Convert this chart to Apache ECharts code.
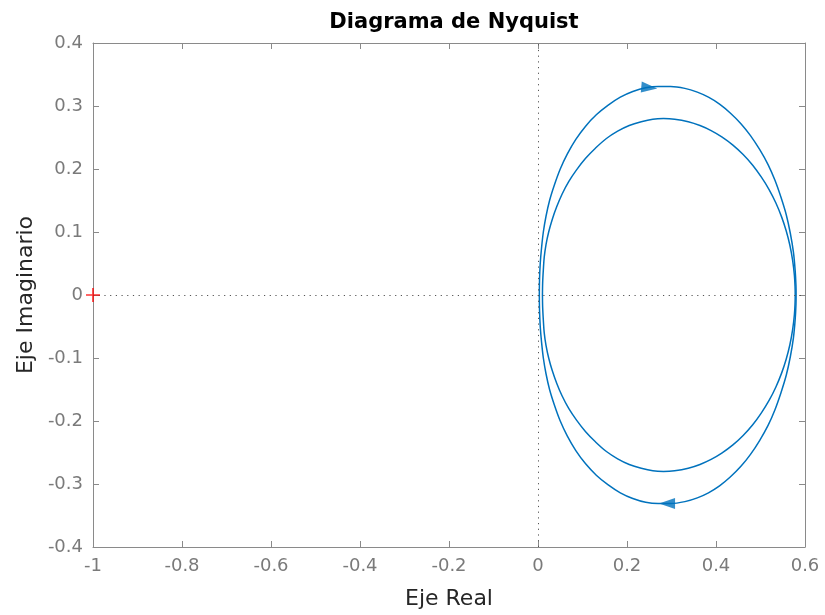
<!DOCTYPE html>
<html>
<head>
<meta charset="utf-8">
<script src="https://cdn.jsdelivr.net/npm/echarts@6/dist/echarts.min.js"></script>
<style>html,body{margin:0;padding:0;background:#fff}#c{width:825px;height:615px}</style>
</head>
<body>
<div id="c"></div>
<script>
// Outer loop: upper half (left -> right) and lower half (right -> left)
var outerUpX = [0.003, 0.0035, 0.005, 0.008, 0.012, 0.018, 0.026, 0.037, 0.050, 0.066, 0.085, 0.107, 0.131, 0.157, 0.185, 0.213, 0.242, 0.270,
                0.298, 0.330, 0.358, 0.383, 0.408, 0.432, 0.456, 0.4775, 0.498, 0.517, 0.5325, 0.546, 0.558, 0.567, 0.574, 0.578, 0.5797, 0.580];
var outerUpY = [0.000, 0.025, 0.050, 0.075, 0.100, 0.125, 0.150, 0.175, 0.200, 0.224, 0.247, 0.268, 0.286, 0.301, 0.314, 0.323, 0.329, 0.331,
                0.331, 0.328, 0.322, 0.314, 0.303, 0.289, 0.272, 0.253, 0.231, 0.207, 0.182, 0.155, 0.127, 0.098, 0.068, 0.038, 0.015, 0.000];
var outerLowX = [0.5797, 0.578, 0.574, 0.567, 0.558, 0.546, 0.5325, 0.517, 0.498, 0.4775, 0.456, 0.432, 0.408, 0.383, 0.358, 0.330, 0.298,
                 0.270, 0.242, 0.213, 0.185, 0.157, 0.131, 0.107, 0.085, 0.066, 0.050, 0.037, 0.026, 0.018, 0.012, 0.008, 0.005, 0.0035, 0.003];
var outerLowY = [-0.015, -0.038, -0.068, -0.098, -0.127, -0.155, -0.182, -0.207, -0.231, -0.253, -0.272, -0.289, -0.303, -0.314, -0.322, -0.328, -0.331,
                 -0.331, -0.329, -0.323, -0.314, -0.301, -0.286, -0.268, -0.247, -0.224, -0.200, -0.175, -0.150, -0.125, -0.100, -0.075, -0.050, -0.025, 0.000];
// Inner loop
var innerUpX = [0.010, 0.0105, 0.012, 0.014, 0.018, 0.024, 0.032, 0.042, 0.054, 0.069, 0.087, 0.107, 0.129, 0.153, 0.179, 0.205, 0.232, 0.258, 0.282,
                0.307, 0.3377, 0.364, 0.389, 0.413, 0.438, 0.461, 0.4825, 0.502, 0.5196, 0.5346, 0.5474, 0.5577, 0.566, 0.5722, 0.5762, 0.5777, 0.578];
var innerUpY = [0.000, 0.020, 0.040, 0.060, 0.080, 0.100, 0.120, 0.140, 0.160, 0.180, 0.199, 0.217, 0.233, 0.248, 0.260, 0.269, 0.275, 0.279, 0.280,
                0.279, 0.275, 0.269, 0.261, 0.251, 0.238, 0.223, 0.206, 0.187, 0.167, 0.146, 0.124, 0.102, 0.079, 0.055, 0.031, 0.012, 0.000];
var innerLowX = [0.5777, 0.5762, 0.5722, 0.566, 0.5577, 0.5474, 0.5346, 0.5196, 0.502, 0.4825, 0.461, 0.438, 0.413, 0.389, 0.364, 0.3377, 0.307, 0.282,
                 0.258, 0.232, 0.205, 0.179, 0.153, 0.129, 0.107, 0.087, 0.069, 0.054, 0.042, 0.032, 0.024, 0.018, 0.014, 0.012, 0.0105, 0.010];
var innerLowY = [-0.012, -0.031, -0.055, -0.079, -0.102, -0.124, -0.146, -0.167, -0.187, -0.206, -0.223, -0.238, -0.251, -0.261, -0.269, -0.275, -0.279, -0.280,
                 -0.279, -0.275, -0.269, -0.260, -0.248, -0.233, -0.217, -0.199, -0.180, -0.160, -0.140, -0.120, -0.100, -0.080, -0.060, -0.040, -0.020, 0.000];
// Direction arrows
var arrowX = [0.250, 0.290];
var arrowY = [0.329, -0.331];
var arrowDir = [-95, 90];
// Critical point
var critX = [-1];
var critY = [0];

function pairs(xs, ys) { return xs.map(function (x, i) { return [x, ys[i]]; }); }

var chart = echarts.init(document.getElementById('c'), null, {renderer: 'canvas'});
var lblColor = '#7a7a7a';
var axColor = '#8a8a8a';
var font = 'DejaVu Sans, Liberation Sans, Arial, sans-serif';
var curve = {color: '#0072BD', width: 1.5};

chart.setOption({
  animation: false,
  backgroundColor: '#ffffff',
  title: {
    text: 'Diagrama de Nyquist',
    left: 449, top: 7, textAlign: 'center',
    textStyle: {fontFamily: font, fontSize: 21, fontWeight: 'bold', color: '#000'}
  },
  grid: {left: 93, right: 20, top: 43, bottom: 67, containLabel: false},
  xAxis: [{
    type: 'value', min: -1, max: 0.6, interval: 0.2,
    name: 'Eje Real', nameLocation: 'middle', nameGap: 41,
    nameTextStyle: {fontFamily: font, fontSize: 22, color: '#262626'},
    axisLine: {show: true, onZero: false, lineStyle: {color: axColor, width: 1}},
    axisTick: {show: true, inside: true, length: 6, lineStyle: {color: axColor}},
    axisLabel: {fontFamily: font, fontSize: 18, color: lblColor, margin: 10,
      formatter: function (v) { return String(Math.round(v * 10) / 10); }},
    splitLine: {show: false}
  }, {
    type: 'value', min: -1, max: 0.6, interval: 0.2, position: 'top',
    axisLine: {show: true, onZero: false, lineStyle: {color: axColor, width: 1}},
    axisTick: {show: true, inside: true, length: 6, lineStyle: {color: axColor}},
    axisLabel: {show: false}, splitLine: {show: false}
  }],
  yAxis: [{
    type: 'value', min: -0.4, max: 0.4, interval: 0.1,
    name: 'Eje Imaginario', nameLocation: 'middle', nameGap: 54,
    nameTextStyle: {fontFamily: font, fontSize: 22, color: '#262626'},
    axisLine: {show: true, onZero: false, lineStyle: {color: axColor, width: 1}},
    axisTick: {show: true, inside: true, length: 6, lineStyle: {color: axColor}},
    axisLabel: {fontFamily: font, fontSize: 18, color: lblColor, margin: 10,
      formatter: function (v) { return String(Math.round(v * 10) / 10); }},
    splitLine: {show: false}
  }, {
    type: 'value', min: -0.4, max: 0.4, interval: 0.1, position: 'right',
    axisLine: {show: true, onZero: false, lineStyle: {color: axColor, width: 1}},
    axisTick: {show: true, inside: true, length: 6, lineStyle: {color: axColor}},
    axisLabel: {show: false}, splitLine: {show: false}
  }],
  series: [{
    type: 'line', data: pairs(outerUpX.concat(outerLowX), outerUpY.concat(outerLowY)),
    smooth: 0.35, showSymbol: false, lineStyle: curve,
    markLine: {
      silent: true, symbol: 'none', animation: false,
      label: {show: false},
      lineStyle: {color: '#555', width: 1, type: [1.2, 4.5]},
      data: [{xAxis: 0}, {yAxis: 0}]
    },
    z: 3
  }, {
    type: 'line', data: pairs(innerUpX.concat(innerLowX), innerUpY.concat(innerLowY)),
    smooth: 0.35, showSymbol: false, lineStyle: curve, z: 3
  }, {
    type: 'scatter', data: pairs(arrowX, arrowY).map(function (p, i) {
      return {value: p, symbolRotate: arrowDir[i]};
    }),
    symbol: 'triangle', symbolSize: [11, 16],
    itemStyle: {color: '#0072BD'}, z: 4
  }, {
    type: 'scatter', data: pairs(critX, critY), clip: false,
    symbol: 'path://M0,4.4H10V5.6H0Z M4.4,0H5.6V10H4.4Z', symbolSize: 14,
    itemStyle: {color: '#ff0000'}, z: 5
  }]
});
</script>
</body>
</html>
